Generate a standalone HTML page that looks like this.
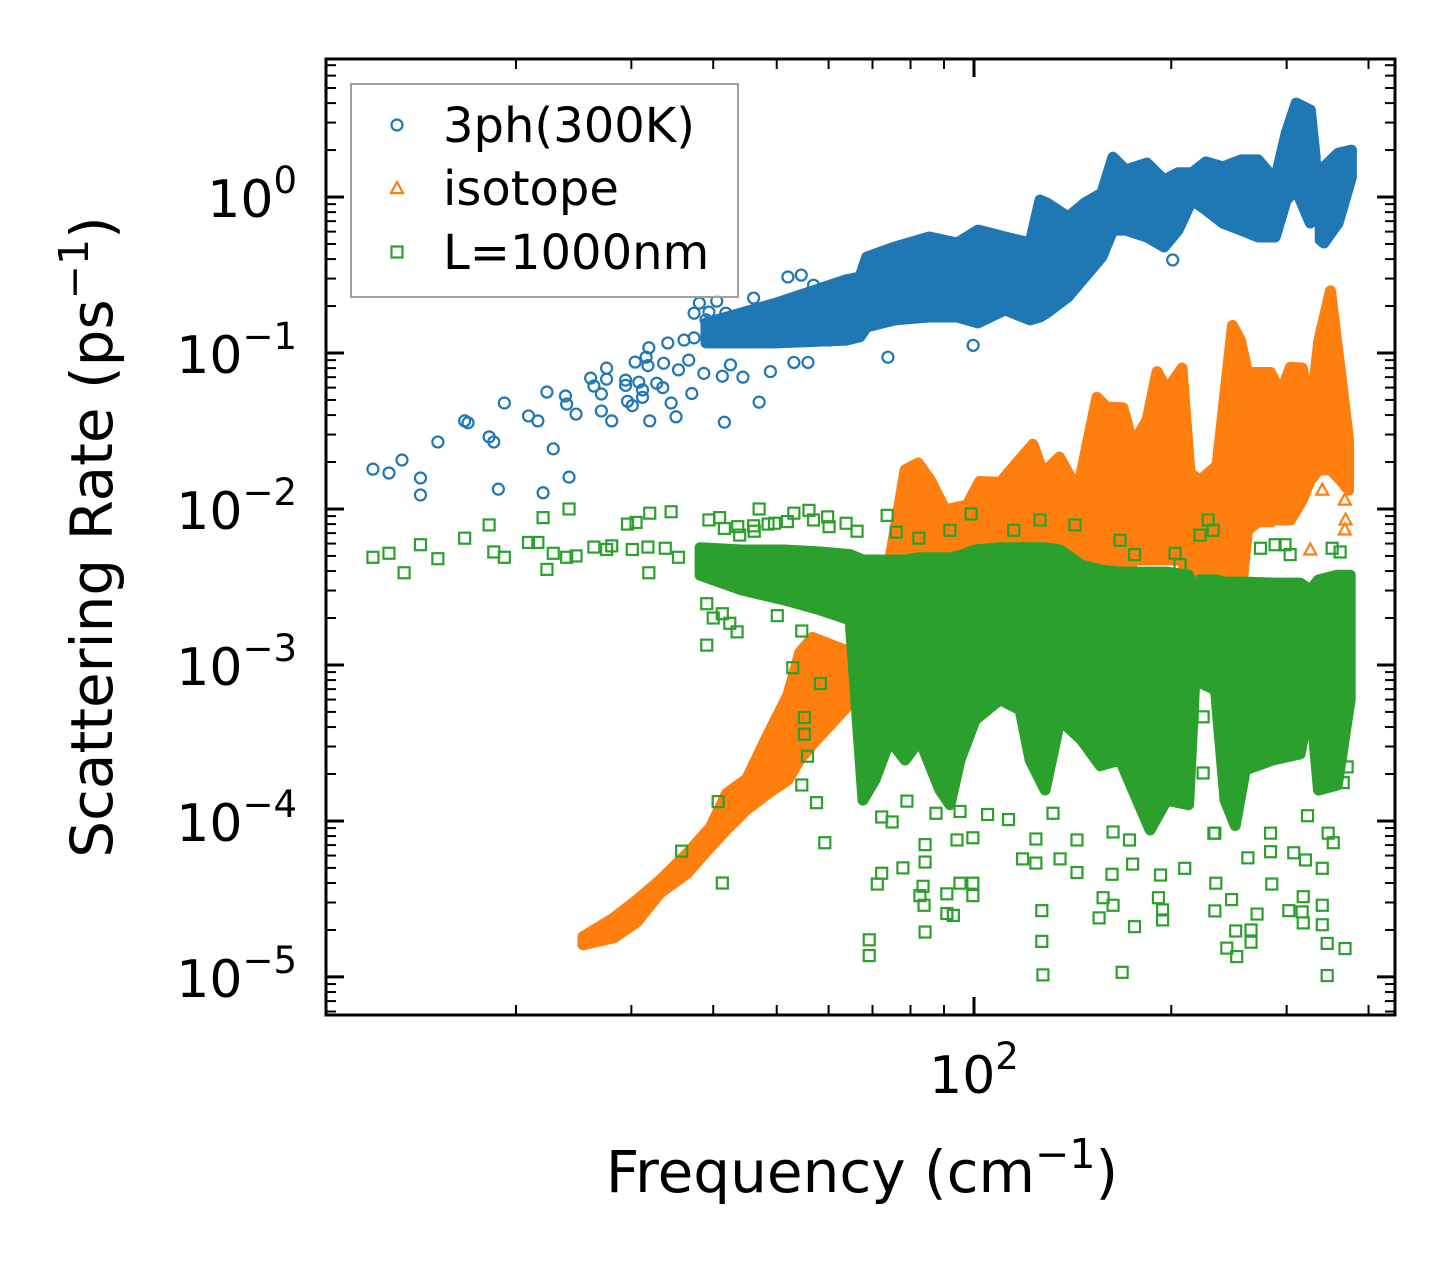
<!DOCTYPE html>
<html><head><meta charset="utf-8"><style>
html,body{margin:0;padding:0;background:#fff;}
svg{display:block;font-family:"DejaVu Sans","Liberation Sans",sans-serif;}
</style></head><body>
<svg id="chart" width="1455" height="1265" viewBox="0 0 1455 1265" xmlns="http://www.w3.org/2000/svg">
<rect width="1455" height="1265" fill="#fff"/>
<g id="marks"></g>
<g id="axes"></g>
<g id="legend">
  <rect x="351" y="84" width="387" height="213" fill="#fff" fill-opacity="0.8" stroke="#a0a0a0" stroke-width="2"/>
  <g>
    <circle cx="397" cy="125" r="5.5" fill="none" stroke="#1f77b4" stroke-width="2.2"/>
    <text x="443" y="142" font-size="48" fill="#000">3ph(300K)</text>
  </g>
  <g>
    <polygon points="397,182 403,193 391,193" fill="none" stroke="#ff7f0e" stroke-width="2.2"/>
    <text x="443" y="205" font-size="48" fill="#000">isotope</text>
  </g>
  <g>
    <rect x="391.5" y="246.5" width="11" height="11" fill="none" stroke="#2ca02c" stroke-width="2.2"/>
    <text x="443" y="269" font-size="48" fill="#000">L=1000nm</text>
  </g>
</g>
<text x="862" y="1192" font-size="58" text-anchor="middle">Frequency (cm<tspan font-size="41" dy="-24">−1</tspan><tspan dy="24">)</tspan></text>
<text transform="translate(112,537) rotate(-90)" font-size="58" text-anchor="middle">Scattering Rate (ps<tspan font-size="41" dy="-24">−1</tspan><tspan dy="24">)</tspan></text>
</svg>
<script>
// ---- data ----
const blueF=[12.1,12.8,13.4,14.3,14.3,15.2,16.7,16.9,18.2,18.5,18.8,19.2,20.9,21.6,22.0,22.3,22.8,23.8,23.9,24.1,24.7,26.0,26.3,27.5,27.5,27.0,27.0,28.0,29.4,29.4,29.6,30.1,30.8,31.2,31.2,30.4,31.6,31.9,31.8,32.0,32.8,33.5,34.5,35.1,37.1,33.6,34.1,35.4,36.1,37.4,36.7,38.1,40.5,37.4,39.4,39.0,41.8,38.7,41.3,41.6,42.5,44.4,47.0,46.1,48.9,53.1,55.8,52.0,54.5,56.9,60.1,63.2,60.1,73.9,201,99.7];
const blueV=[0.018,0.017,0.0206,0.0158,0.0123,0.0269,0.0367,0.0357,0.029,0.0269,0.0134,0.0478,0.0395,0.0367,0.0127,0.0562,0.0243,0.053,0.047,0.016,0.0406,0.069,0.0614,0.080,0.068,0.0546,0.0425,0.0367,0.067,0.062,0.049,0.046,0.065,0.058,0.052,0.0875,0.094,0.108,0.083,0.0367,0.064,0.06,0.0478,0.039,0.055,0.086,0.116,0.078,0.121,0.125,0.09,0.209,0.215,0.18,0.183,0.163,0.18,0.074,0.071,0.036,0.084,0.07,0.0484,0.225,0.076,0.087,0.087,0.307,0.316,0.272,0.121,0.127,0.246,0.094,0.395,0.112];
const blueBandF=[39.0,49.9,63.8,67.0,68.6,75.7,85.4,94.2,101.4,111.5,121.8,126.1,129.2,139.2,147.6,156.7,162.9,170.5,183.6,195,204.9,215.1,226,239.8,255.6,271.5,288.2,299.5,310.2,326,331.6];
const blueBandHi=[0.156,0.209,0.294,0.307,0.412,0.478,0.554,0.507,0.614,0.554,0.507,0.957,0.915,0.744,0.915,1.06,1.8,1.49,1.65,1.285,1.43,1.43,1.68,1.56,1.73,1.73,1.285,2.57,4.0,3.61,1.8];
const blueBandLo=[0.116,0.116,0.121,0.127,0.147,0.163,0.17,0.17,0.156,0.189,0.163,0.17,0.181,0.229,0.307,0.412,0.614,0.614,0.554,0.478,0.614,0.957,0.826,0.68,0.614,0.554,0.554,0.957,1.11,0.68,1.11];
const blueBand2F=[337.5,342,359.4,376.6];
const blueBand2Hi=[1.56,1.56,1.91,2.0];
const blueBand2Lo=[0.53,0.507,0.68,1.34];

const orangeBandF=[25.3,28.2,30.6,33.2,36.5,39.6,41.9,45.0,48.5,52.0,54.2,56.7,63.4,67.0,70.6,74.4,78.5,82.2,85.8,90.4,97.6,102,109.6,123,127.5,135,144,154,159.5,168.8,174.8,183.7,190.3,197,207.7,213.6,221.3,234.9,248,255,261.5,273.6,283.5,293.7,304,317,326,336,350,362.5,373];
const orangeBandHi=[1.81e-5,2.39e-5,3.12e-5,4.19e-5,6.2e-5,9.1e-5,1.5e-4,1.86e-4,3.6e-4,6.4e-4,1.2e-3,1.5e-3,1.25e-3,1.29e-3,4.06e-3,4.71e-3,1.78e-2,1.97e-2,1.53e-2,9.86e-3,1.06e-2,1.5e-2,1.48e-2,2.6e-2,1.7e-2,2.15e-2,1.32e-2,5.2e-2,4.5e-2,4.45e-2,2.6e-2,3.72e-2,7.6e-2,5.8e-2,8.0e-2,1.7e-2,1.53e-2,1.9e-2,0.15,0.121,7.5e-2,7.5e-2,7.5e-2,5.5e-2,8.1e-2,8.0e-2,3.9e-2,0.121,0.25,7.5e-2,2.77e-2];
const orangeBandLo=[1.61e-5,1.78e-5,2.25e-5,3.45e-5,4.6e-5,6.8e-5,8.75e-5,1.18e-4,1.5e-4,1.83e-4,2.46e-4,3.1e-4,5.15e-4,6.6e-4,6e-4,6.9e-4,8e-4,9.3e-4,1.08e-3,1.25e-3,1.45e-3,1.68e-3,1.94e-3,2.25e-3,2.25e-3,2.61e-3,2.61e-3,3.03e-3,3.03e-3,2.61e-3,4.71e-3,4.71e-3,4.71e-3,4.71e-3,4.71e-3,3.03e-3,2.61e-3,2.61e-3,2.61e-3,2.61e-3,7.3e-3,8.5e-3,8.5e-3,8.5e-3,8.5e-3,1.14e-2,1.53e-2,1.78e-2,1.78e-2,1.53e-2,1.32e-2];
const orangeF=[368,368,369,368,340,326,280,254,214];
const orangeV=[0.0186,0.0114,0.0085,0.00733,0.0132,0.00546,0.0083,0.00351,0.00138];

const greenBandF=[38.2,44.2,51.4,58.3,64.7,67.7,70.6,74.4,78.5,82.7,88.7,91.9,95.2,100.4,109.6,117.6,121.8,128.4,135.3,146,155.8,167.1,185.7,196.9,212.6,218,221.3,233.6,241.6,250.4,259.4,285.7,314.6,326,335.5,358.5,375];
const greenBandHi=[0.00565,0.00546,0.00546,0.0053,0.0051,0.00471,0.00471,0.00471,0.00471,0.00487,0.00487,0.00487,0.00503,0.00546,0.00565,0.00565,0.00565,0.00565,0.00546,0.00437,0.00406,0.00394,0.00394,0.00394,0.00376,0.00261,0.00351,0.00351,0.0034,0.0034,0.0034,0.00335,0.00335,0.00303,0.00351,0.00376,0.00376];
const greenBandLo=[0.00376,0.00303,0.00261,0.00225,0.00194,0.000136,0.000183,0.00033,0.000246,0.00033,0.000158,0.000127,0.000246,0.000444,0.0006,0.000515,0.000246,0.000158,0.000444,0.00033,0.000226,0.000246,0.0000875,0.000136,0.000127,0.00108,0.00077,0.00069,0.000136,0.0000935,0.000212,0.000246,0.000269,0.0006,0.000158,0.00017,0.0006];
const greenF=[12.1,12.8,13.5,14.3,15.2,16.7,18.2,18.5,19.2,20.9,21.6,22.0,22.3,22.8,23.9,24.1,24.7,26.3,27.5,28.0,29.6,30.1,31.8,32.0,31.9,34.5,33.8,35.4,39.4,41.6,43.9,46.1,47.0,49.6,53.1,56.9,60.1,30.5,56,40.9,43.6,46.2,48.5,51.9,59.8,63.8,66.3,73.7,76.1,99,82.4,
39.1,40,41.3,42.4,43.5,39.1,50.1,52.9,54.6,58.3,55.1,55.1,55.7,54.6,57.5,59.2,40.7,35.8,41.3,
69.2,69.2,71.2,72.3,77.9,84.2,83.6,82.7,83.9,84.2,90.9,93,90.9,95.2,99.6,72.3,75,79,87.5,95.2,94.2,84.2,
99.6,126.9,126.9,127.4,157.4,163,155.2,175.8,168.3,191.2,194,194,233.1,233.9,247.2,250.8,243.1,251.7,264.7,264.7,270.4,284.7,302.3,316.8,318,318,340,340,345.9,368.3,345.9,143.6,143.6,124.3,118.6,124.3,135.3,162.4,174.6,192.6,209.7,233.1,261.8,283.5,307.6,320.5,340,347.1,353.4,104.9,112.9,132,99.6,163,172.7,223.7,223.7,232.3,371,366,283.5,322.8,
227.7,231.7,221.3,202.7,206.3,273.6,288.1,298.3,303.7,352,362,115,126.1,142.6,167.1,91.9,175.8];
const greenV=[0.0049,0.0052,0.0039,0.0059,0.0048,0.0065,0.0079,0.0053,0.0049,0.0061,0.0061,0.0088,0.0041,0.0052,0.0049,0.0100,0.0050,0.0057,0.0055,0.0058,0.0080,0.0055,0.0057,0.0094,0.0039,0.0096,0.0056,0.0049,0.0085,0.0075,0.0068,0.0078,0.0100,0.0081,0.0094,0.0085,0.0077,0.0082,0.0098,0.0088,0.0077,0.0072,0.0080,0.0083,0.0089,0.0081,0.0072,0.0091,0.0071,0.0093,0.0065,
0.00247,0.0020,0.00213,0.00185,0.00163,0.00134,0.00207,0.00096,0.00165,0.00076,0.00046,0.00036,0.00026,0.00017,0.000131,0.0000725,0.000133,0.000064,0.00004,
0.0000173,0.0000137,0.0000394,0.0000462,0.00005,0.0000545,0.0000381,0.0000332,0.0000288,0.0000194,0.0000341,0.0000248,0.0000255,0.0000399,0.0000399,0.000106,0.0000985,0.000134,0.000112,0.000115,0.0000755,0.0000705,
0.0000332,0.0000266,0.0000169,0.0000103,0.0000322,0.0000288,0.0000239,0.000021,0.0000107,0.0000322,0.0000269,0.0000232,0.0000265,0.0000399,0.0000313,0.0000197,0.0000153,0.0000135,0.00002,0.0000167,0.0000253,0.0000394,0.0000266,0.0000261,0.0000222,0.0000327,0.0000288,0.0000216,0.0000164,0.0000152,0.0000102,0.0000467,0.0000755,0.0000766,0.0000571,0.0000537,0.0000571,0.0000455,0.0000529,0.000045,0.0000497,0.0000835,0.000058,0.0000635,0.0000625,0.0000562,0.0000497,0.0000835,0.0000725,0.00011,0.000102,0.000112,0.000078,0.000085,0.0000755,0.000465,0.000203,0.0000835,0.000222,0.000176,0.0000835,0.000108,
0.0085,0.0073,0.0068,0.0052,0.0044,0.0056,0.0059,0.0059,0.0051,0.0056,0.0053,0.0073,0.0085,0.0079,0.0063,0.0073,0.0051];

const yTickExps=[0,-1,-2,-3,-4,-5];
const yTickLabels=["0","−1","−2","−3","−4","−5"];
const xTickExps=[2];
const xTickLabels=["2"];
const xDomain=[10.26,439];
const yDomain=[5.70e-6,7.67];

// ---- scales ----
const PL=326,PR=1395,PT=59,PB=1015;
const L10=Math.log10;
function X(f){return PL+(L10(f)-L10(xDomain[0]))/(L10(xDomain[1])-L10(xDomain[0]))*(PR-PL);}
function Y(v){return PB-(L10(v)-L10(yDomain[0]))/(L10(yDomain[1])-L10(yDomain[0]))*(PB-PT);}

const NS="http://www.w3.org/2000/svg";
const marks=document.getElementById('marks');
const axes=document.getElementById('axes');
function mk(tag,attrs,parent){const e=document.createElementNS(NS,tag);for(const k in attrs)e.setAttribute(k,attrs[k]);parent.appendChild(e);return e;}

const clip=mk('clipPath',{id:'pclip'},marks);
mk('rect',{x:PL,y:PT,width:PR-PL,height:PB-PT},clip);

function circles(F,V,color,g){
  for(let i=0;i<Math.min(F.length,V.length);i++){
    const c=mk('circle',{cx:X(F[i]),cy:Y(V[i]),r:5.5,fill:'none',stroke:color,'stroke-width':2.2},g);
    
    
  }
}
function tris(F,V,color,g){
  for(let i=0;i<Math.min(F.length,V.length);i++){
    const x=X(F[i]),y=Y(V[i]);
    const t=mk('polygon',{points:`${x},${y-6.5} ${x+6},${y+4.5} ${x-6},${y+4.5}`,fill:'none',stroke:color,'stroke-width':2.2},g);
    
    
  }
}
function squares(F,V,color,g){
  for(let i=0;i<Math.min(F.length,V.length);i++){
    const s=mk('rect',{x:X(F[i])-5.5,y:Y(V[i])-5.5,width:11,height:11,fill:'none',stroke:color,'stroke-width':2.2},g);
    
    
  }
}
const gB=mk('g',{'clip-path':'url(#pclip)'},marks);


const gO=mk('g',{'clip-path':'url(#pclip)'},marks);


const gG=mk('g',{'clip-path':'url(#pclip)'},marks);



function bandIn(g,F,Hi,Lo,color,name){
  const pts=[];
  for(let i=0;i<F.length;i++)pts.push(X(F[i]).toFixed(1)+','+Y(Hi[i]).toFixed(1));
  for(let i=F.length-1;i>=0;i--)pts.push(X(F[i]).toFixed(1)+','+Y(Lo[i]).toFixed(1));
  const p=mk('polygon',{points:pts.join(' '),fill:color,stroke:color,'stroke-width':11,'stroke-linejoin':'round'},g);
  
  
}
bandIn(gB,blueBandF,blueBandHi,blueBandLo,'#1f77b4','band-3ph-main');
bandIn(gB,blueBand2F,blueBand2Hi,blueBand2Lo,'#1f77b4','band-3ph-high');
circles(blueF,blueV,'#1f77b4',gB);
bandIn(gO,orangeBandF,orangeBandHi,orangeBandLo,'#ff7f0e','band-isotope');
tris(orangeF,orangeV,'#ff7f0e',gO);
bandIn(gG,greenBandF,greenBandHi,greenBandLo,'#2ca02c','band-boundary');
squares(greenF,greenV,'#2ca02c',gG);

// ---- axes ----
const frame=mk('rect',{x:PL,y:PT,width:PR-PL,height:PB-PT,fill:'none',stroke:'#000','stroke-width':3},axes);


function tickY(v,len,w){
  const y=Y(v);
  mk('line',{x1:PL,y1:y,x2:PL+len,y2:y,stroke:'#000','stroke-width':w},axes);
  mk('line',{x1:PR,y1:y,x2:PR-len,y2:y,stroke:'#000','stroke-width':w},axes);
}
function tickX(f,len,w){
  const x=X(f);
  mk('line',{x1:x,y1:PB,x2:x,y2:PB-len,stroke:'#000','stroke-width':w},axes);
  mk('line',{x1:x,y1:PT,x2:x,y2:PT+len,stroke:'#000','stroke-width':w},axes);
}
for(let e=-6;e<=1;e++){
  for(let m=2;m<=9;m++){const v=m*Math.pow(10,e);if(v>yDomain[0]&&v<yDomain[1])tickY(v,10,2);}
}
for(let e=1;e<=2;e++){
  for(let m=1;m<=9;m++){const f=m*Math.pow(10,e);if(f>xDomain[0]&&f<xDomain[1]&&!(m===1&&e===2))tickX(f,10,2);}
}
yTickExps.forEach((e,i)=>{
  const v=Math.pow(10,e);tickY(v,18,3);
  const t=mk('text',{x:297,y:Y(v)+20,'font-size':52,'text-anchor':'end',fill:'#000'},axes);
  
  
  t.appendChild(document.createTextNode('10'));
  const s=mk('tspan',{'font-size':37,dy:-24},t);s.textContent=yTickLabels[i];
});
xTickExps.forEach((e,i)=>{
  const f=Math.pow(10,e);tickX(f,18,3);
  const t=mk('text',{x:X(f),y:1093,'font-size':52,'text-anchor':'middle',fill:'#000'},axes);
  
  
  t.appendChild(document.createTextNode('10'));
  const s=mk('tspan',{'font-size':37,dy:-24},t);s.textContent=xTickLabels[i];
});
</script>
</body></html>
